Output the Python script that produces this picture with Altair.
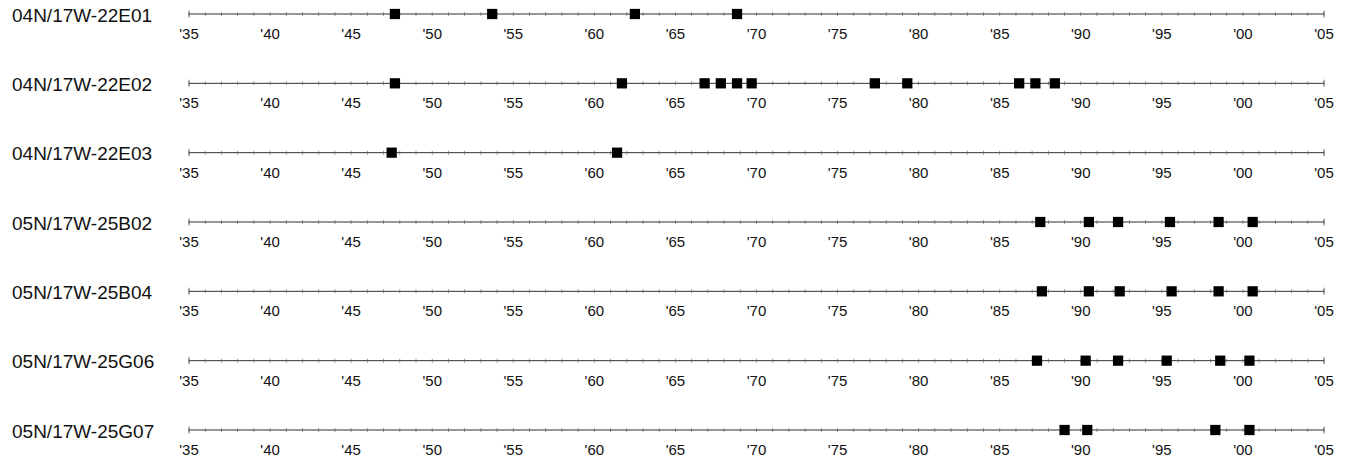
import altair as alt
import pandas as pd

stations = [
    "04N/17W-22E01",
    "04N/17W-22E02",
    "04N/17W-22E03",
    "05N/17W-25B02",
    "05N/17W-25B04",
    "05N/17W-25G06",
    "05N/17W-25G07",
]

years_22E01 = [1947.7, 1953.7, 1962.5, 1968.8]
years_22E02 = [1947.7, 1961.7, 1966.8, 1967.8, 1968.8, 1969.7, 1977.3, 1979.3, 1986.2, 1987.2, 1988.4]
years_22E03 = [1947.5, 1961.4]
years_25B02 = [1987.5, 1990.5, 1992.3, 1995.5, 1998.5, 2000.6]
years_25B04 = [1987.6, 1990.5, 1992.4, 1995.6, 1998.5, 2000.6]
years_25G06 = [1987.3, 1990.3, 1992.3, 1995.3, 1998.6, 2000.4]
years_25G07 = [1989.0, 1990.4, 1998.3, 2000.4]

obs_years = [years_22E01, years_22E02, years_22E03, years_25B02,
             years_25B04, years_25G06, years_25G07]

label_years = [1935, 1940, 1945, 1950, 1955, 1960, 1965, 1970,
               1975, 1980, 1985, 1990, 1995, 2000, 2005]
label_texts = ["'35", "'40", "'45", "'50", "'55", "'60", "'65", "'70",
               "'75", "'80", "'85", "'90", "'95", "'00", "'05"]

start_year, end_year = 1935, 2005

# tables built from the lists above
lines_df = pd.DataFrame({"row": list(range(len(stations))),
                         "station": stations,
                         "start": start_year, "end": end_year})
pts_df = pd.DataFrame([{"row": i, "year": y}
                       for i, ys in enumerate(obs_years) for y in ys])
minor_df = pd.DataFrame([{"row": i, "year": y}
                         for i in range(len(stations))
                         for y in range(start_year, end_year + 1)])
caps_df = pd.DataFrame([{"row": i, "year": y}
                        for i in range(len(stations))
                        for y in (start_year, end_year)])
lab_df = pd.DataFrame([{"row": i, "year": y, "txt": t}
                       for i in range(len(stations))
                       for y, t in zip(label_years, label_texts)])

xs = alt.Scale(domain=[start_year, end_year], range=[181, 1316])
ys = alt.Scale(domain=[0, 6], range=[6, 422])

X = lambda f: alt.X(f, type="quantitative", scale=xs, axis=None)
Y = alt.Y("row:Q", scale=ys, axis=None)

line = alt.Chart(lines_df).mark_rule(color="#333", strokeWidth=1).encode(
    x=X("start"), x2="end", y=Y)

minor = alt.Chart(minor_df).mark_tick(orient="vertical", size=4, thickness=0.8,
                                      color="#555").encode(x=X("year"), y=Y)

caps = alt.Chart(caps_df).mark_tick(orient="vertical", size=7, thickness=1,
                                    color="#333").encode(x=X("year"), y=Y)

pts = alt.Chart(pts_df).mark_square(size=105, color="black", opacity=1,
                                    filled=True).encode(x=X("year"), y=Y)

names = alt.Chart(lines_df).mark_text(
    align="left", baseline="alphabetic", dy=7.5, fontSize=19,
    font="Liberation Sans", color="#111").encode(x=alt.value(4), y=Y, text="station:N")

labels = alt.Chart(lab_df).mark_text(
    align="center", baseline="alphabetic", dy=25, fontSize=15,
    font="Liberation Sans", color="#111").encode(x=X("year"), y=Y, text="txt:N")

chart = alt.layer(line, minor, caps, pts, names, labels).properties(
    width=1341, height=447, padding=0, autosize="none"
).configure_view(stroke=None)

chart.save("out.html", embed_options={"renderer": "svg", "actions": False})
